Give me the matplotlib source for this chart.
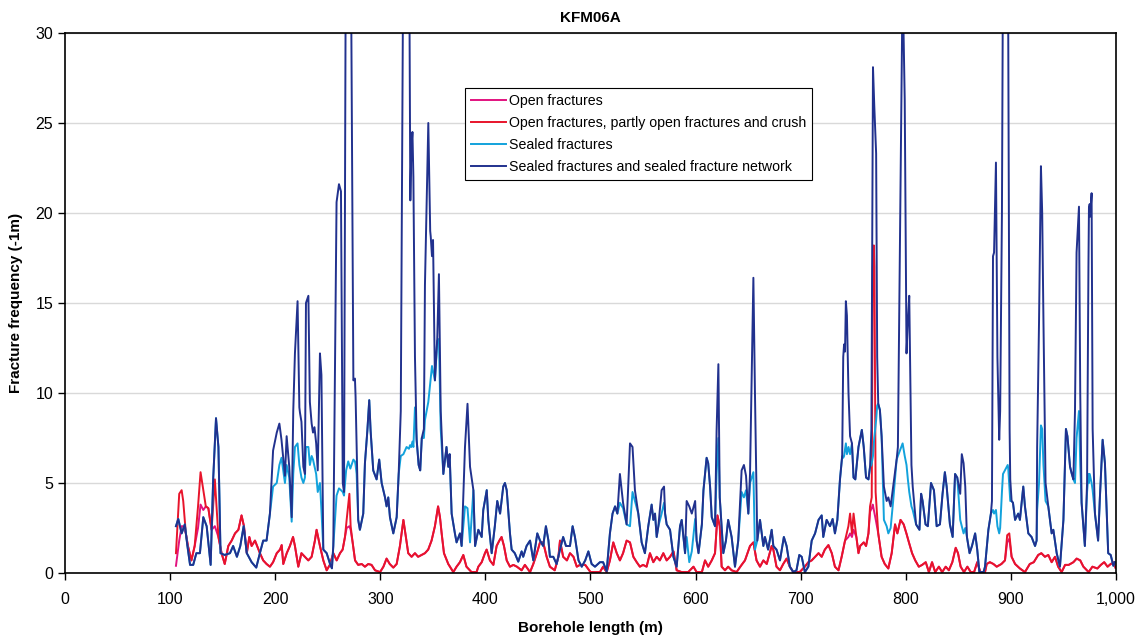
import matplotlib
matplotlib.use('Agg')
import matplotlib.pyplot as plt

plt.rcParams['font.family'] = ['Liberation Sans', 'DejaVu Sans']

title = 'KFM06A'
x_label = 'Borehole length (m)'
y_label = 'Fracture frequency (-1m)'
x_ticks = [0, 100, 200, 300, 400, 500, 600, 700, 800, 900, 1000]
x_tick_labels = ['0', '100', '200', '300', '400', '500', '600', '700', '800', '900', '1,000']
y_ticks = [0, 5, 10, 15, 20, 25, 30]

names = ['Open fractures',
         'Open fractures, partly open fractures and crush',
         'Sealed fractures',
         'Sealed fractures and sealed fracture network']

# (borehole length, frequency)
network_pts = [
    (105.6, 2.6), (107.8, 3.0), (111, 2.2), (114, 2.7), (116.5, 1.5), (119, 0.45), (122, 0.45),
    (125, 1.1), (128.4, 1.1), (131.6, 3.1), (134.8, 2.6), (138.6, 0.45), (141, 5.2), (143.7, 8.6),
    (146, 7.0), (148, 1.1), (152, 1.0), (157, 1.1), (160, 1.5), (163.6, 0.9), (166.8, 1.5),
    (170, 2.6), (173, 1.1), (177.6, 0.6), (182, 0.3), (185, 1.0), (188.6, 1.8), (191.8, 1.8),
    (195, 3.3), (198, 6.8), (201.5, 7.8), (204, 8.3), (206, 7.4), (209.3, 5.4), (210.9, 7.6),
    (213.4, 5.9), (215.7, 3.1), (217.2, 9.0), (218.8, 12.2), (221.3, 15.1), (223, 9.2),
    (223.6, 8.9), (225, 8.4), (226.8, 5.9), (228.3, 5.5), (229.3, 15.0), (230.5, 15.2),
    (231.6, 15.4), (233, 9.5), (234.7, 8.3), (236, 7.8), (237.4, 8.1), (239, 7.2), (240.5, 5.7),
    (242.6, 12.2), (244, 11.0), (245.8, 1.3), (249, 1.1), (252.5, 0.45), (254, 0.26),
    (255.3, 1.5), (258.4, 20.6), (260.7, 21.6), (262.6, 21.2), (264.3, 5.0), (265.5, 4.5),
    (267.5, 40), (271.5, 40), (274.4, 10.7), (275.9, 10.8), (276.5, 9.8), (277.5, 7.0),
    (279, 2.95), (280.6, 2.4), (283.8, 3.3), (285.4, 6.1), (287.7, 7.9), (289.5, 9.6),
    (290.8, 7.9), (293.3, 5.7), (296.5, 5.2), (299, 6.3), (301.3, 5.0), (304.5, 4.2), (306, 3.7),
    (307.6, 4.2), (309.2, 3.1), (312.4, 2.2), (315.6, 3.1), (317.5, 5.5), (319.5, 9.0),
    (322, 36), (325, 40), (327.3, 36), (327.8, 31), (328.3, 23.7), (328.6, 20.7), (329.5, 23.5),
    (330.6, 24.5), (331.5, 22), (333, 12), (334.6, 7.4), (336.5, 6.0), (338, 5.7), (339.5, 7.5),
    (341.5, 8.0), (342.5, 16.0), (345.7, 25.0), (347.5, 19), (348, 18.7), (349.2, 17.6),
    (350.2, 18.5), (352, 10.7), (354.2, 13.0), (355.8, 16.6), (357.5, 9.0), (360, 5.5),
    (363, 7.0), (364.7, 5.9), (366, 6.6), (367.9, 3.3), (371, 2.2), (372.6, 1.7), (375.8, 2.2),
    (377.4, 1.5), (380.6, 7.0), (383, 9.4), (385.4, 5.9), (388.6, 4.6), (390.2, 1.5),
    (393.3, 2.4), (396.5, 2.0), (398, 3.5), (401.3, 4.6), (402.8, 2.95), (406, 1.1), (409, 2.6),
    (411.3, 4.0), (414, 3.3), (417, 4.8), (418.6, 5.0), (420.3, 4.6), (423.4, 2.2), (425, 1.3),
    (428, 1.1), (431.3, 0.63), (434.5, 1.2), (436, 0.9), (439.2, 1.5), (442.5, 1.8),
    (445.6, 0.7), (449.4, 2.2), (452, 1.8), (455, 1.5), (457.6, 2.6), (460, 1.8), (461.4, 0.9),
    (464.6, 0.9), (467.8, 0.5), (471, 1.3), (474, 2.0), (476.7, 1.5), (480.5, 1.5), (483, 2.6),
    (485.2, 2.0), (488.6, 0.7), (491.7, 0.35), (495, 0.7), (498, 1.2), (501.1, 0.5),
    (504.3, 0.35), (509, 0.6), (512, 0.6), (515.4, 0.1), (518.5, 2.2), (521, 3.3), (523.4, 3.7),
    (525.6, 3.3), (528, 5.5), (531, 3.9), (534.4, 2.7), (537.6, 7.2), (540, 7.0), (542.3, 4.6),
    (545.5, 3.3), (548.7, 1.7), (551.8, 1.1), (555, 2.6), (558.2, 3.8), (559.8, 2.95),
    (561.4, 3.3), (563, 2.0), (564.6, 2.6), (567.7, 4.6), (570, 4.8), (571, 3.3), (572.5, 2.7),
    (575.7, 2.4), (578.9, 0.9), (582, 0.35), (585.2, 2.6), (586.8, 2.95), (590, 1.1),
    (591.5, 4.0), (594, 3.7), (596.4, 3.3), (599.6, 4.0), (601, 1.8), (602.8, 1.1), (606, 2.7),
    (607.5, 4.6), (610.5, 6.4), (612, 6.1), (613.8, 4.8), (615.4, 3.1), (618.5, 2.6), (620, 7.9),
    (621.7, 11.6), (623, 4.2), (626.4, 1.1), (628.9, 1.8), (631, 2.95), (634.3, 2.0),
    (637.5, 0.35), (640.6, 1.8), (643.8, 5.7), (646, 6.0), (648, 5.4), (650.2, 3.3),
    (651.8, 5.5), (655, 16.4), (656.5, 10.0), (658.7, 1.8), (661.3, 2.95), (664.5, 1.5),
    (666, 2.0), (669, 1.3), (672.4, 2.4), (674, 1.5), (677, 1.3), (680.3, 0.7), (684, 2.0),
    (686.6, 1.5), (689.7, 0.35), (693, 0.05), (696, 0.15), (698.7, 1.0), (701, 0.9),
    (704, 0.05), (707.3, 0.35), (710.5, 1.8), (713.7, 2.2), (717, 2.95), (720, 3.2),
    (721.5, 2.0), (724.7, 2.95), (727.9, 2.6), (730.4, 3.0), (732.6, 2.2), (734.9, 2.95),
    (737.4, 5.2), (739.5, 6.5), (740.5, 12.0), (741.3, 12.7), (742.2, 12.3), (743, 15.1),
    (744, 14.3), (745.5, 10.0), (747, 7.6), (748.8, 7.2), (750.3, 5.3), (752, 5.2), (755, 7.0),
    (758.2, 7.95), (760, 7.0), (762.2, 5.3), (764.5, 5.2), (766, 5.9), (767.3, 8.0),
    (768.8, 28.1), (770, 26.0), (771.8, 23.3), (772.8, 12.0), (773.8, 9.4), (775.4, 9.05),
    (777, 7.6), (779.2, 4.8), (781.8, 4.0), (783.4, 4.2), (785.6, 3.7), (788, 4.8), (791.3, 6.3),
    (792.5, 7.0), (797, 33), (799, 26.3), (800.7, 12.2), (802, 14.0), (803.3, 15.4),
    (805.4, 6.0), (806.6, 4.8), (809.8, 2.7), (813, 2.4), (814.6, 4.4), (816, 4.0), (818.8, 2.7),
    (821, 2.6), (824, 5.0), (826.8, 4.6), (829.4, 2.6), (832.5, 2.7), (835, 4.4), (837.2, 5.6),
    (838.9, 4.8), (842, 2.7), (844.6, 2.0), (846.9, 5.5), (849, 5.3), (851.8, 4.4), (853.3, 6.6),
    (855, 6.1), (856.6, 4.8), (858.2, 2.0), (860.7, 1.1), (863, 1.5), (866, 2.2), (868, 1.3),
    (870, 0.05), (874, 0.05), (875.4, 0.35), (878.6, 2.4), (881, 3.3), (882, 4.0), (883, 17.6),
    (884, 17.8), (885.8, 22.8), (887.2, 12.0), (888.9, 7.4), (889.8, 9.0), (891.5, 20.0),
    (892.5, 34), (897, 34), (897.5, 30), (898.8, 8.0), (899.4, 5.2), (900.7, 4.0), (902, 3.9),
    (904, 2.95), (907, 3.3), (908.6, 2.95), (911.8, 4.8), (913.4, 3.7), (916.6, 2.2),
    (919.7, 2.0), (923, 1.5), (924.5, 1.8), (925, 7.0), (926.8, 14.0), (928.6, 22.6),
    (929.8, 20.0), (931, 14.0), (933, 5.0), (935.6, 3.7), (938.8, 2.2), (940.4, 2.4),
    (943.6, 1.1), (946.7, 0.35), (950, 2.95), (952.4, 8.0), (953.8, 7.6), (956.3, 5.9),
    (958, 5.5), (959.5, 5.2), (961, 9.0), (962.5, 17.8), (964.8, 20.35), (966, 10.0),
    (967.3, 3.9), (970.4, 1.5), (972.5, 5.0), (973.8, 17.0), (974.3, 20.3), (975, 20.5),
    (975.6, 19.8), (976.8, 21.1), (977.8, 8.0), (980, 3.3), (983, 1.8), (984.7, 4.2),
    (987.3, 7.4), (989.5, 6.1), (992.6, 1.1), (995, 1.0), (997.5, 0.4), (999, 0.6),
]

# stretches where "Sealed fractures" lies below the network curve
sealed_patches = [
    [(195, 3.3), (198, 4.8), (201.5, 5.0), (204, 6.0), (206, 6.4), (209.3, 5.0), (210.9, 6.0),
     (213.4, 5.3), (215.7, 2.85), (217.2, 5.5), (218.8, 7.0), (221.3, 7.2), (223, 6.0),
     (225, 5.3), (226.8, 5.0), (228.3, 5.3), (229.3, 7.0), (231.6, 7.0), (233, 6.0),
     (234.7, 6.5), (236, 6.3), (239, 5.5), (240.5, 4.5), (242.6, 5.0), (244, 3.5), (245.8, 1.3)],
    [(258.4, 4.3), (260.7, 4.7), (262.6, 4.6), (264.3, 4.5), (265.5, 4.3), (267.5, 5.7),
     (269.5, 6.2), (271.5, 5.8), (274.4, 6.3), (275.9, 6.2), (276.5, 6.0), (277.5, 5.5)],
    [(317.5, 5.5), (319.5, 6.5), (322, 6.6), (325, 7.0), (327.3, 6.9), (328.3, 7.1),
     (329.5, 7.0), (330.6, 7.3), (331.5, 7.0), (333, 9.2), (334.6, 7.4)],
    [(341.5, 7.5), (342.5, 8.5), (345.7, 9.5), (347.5, 10.5), (349.2, 11.5), (352, 10.7),
     (354.2, 12.9), (355.8, 13.0), (357.5, 8.0), (360, 5.5)],
    [(380.6, 3.7), (383, 3.6), (385.4, 1.7)],
    [(528, 3.9), (531, 3.6), (534.4, 2.7), (537.6, 2.6), (540, 4.5), (542.3, 4.0)],
    [(567.7, 3.3), (570, 3.9)],
    [(591.5, 2.0), (594, 0.6), (596.4, 1.2), (599.6, 3.0)],
    [(620, 5.5), (621.7, 7.5), (623, 4.2)],
    [(643.8, 4.5), (646, 4.2), (648, 4.6), (650.2, 3.3), (651.8, 5.0), (655, 5.6),
     (656.5, 1.3), (658.7, 1.8)],
    [(739.5, 6.5), (740.5, 6.4), (741.3, 6.5), (743, 7.2), (744, 6.6), (745.5, 7.0),
     (747, 6.6), (748.8, 7.2)],
    [(767.3, 6.0), (768.8, 6.5), (770, 7.5), (771.8, 8.5), (772.8, 9.3), (773.8, 9.4)],
    [(779.2, 2.95), (781.8, 2.6), (783.4, 2.2), (785.6, 2.5), (788, 4.0)],
    [(792.5, 6.5), (797, 7.2), (799, 6.5), (800.7, 6.0), (802, 5.2), (803.3, 4.5),
     (805.4, 3.7), (806.6, 3.5)],
    [(851.8, 2.95), (853.3, 2.6), (855, 2.2), (856.6, 2.5)],
    [(881, 3.3), (882, 3.4), (883, 3.5), (884, 3.3), (885.8, 3.5), (887.2, 2.6), (888.9, 2.2),
     (889.8, 2.5), (891.5, 4.5), (892.5, 5.5), (897, 6.0), (897.5, 5.8), (898.8, 4.5),
     (899.4, 4.0)],
    [(925, 3.5), (926.8, 5.0), (928.6, 8.2), (929.8, 8.0), (931, 6.0), (933, 4.0)],
    [(961, 5.0), (962.5, 7.5), (964.8, 9.0), (966, 6.0), (967.3, 3.9)],
    [(972.5, 4.5), (973.8, 5.5), (974.3, 5.0), (975, 5.5), (976.8, 5.0), (977.8, 4.6)],
]

crush_pts = [
    (105.6, 1.1), (108.7, 4.4), (111, 4.6), (112.5, 4.0), (115, 2.2), (117, 1.5), (120.3, 0.7),
    (123.4, 1.5), (126.6, 3.7), (129, 5.6), (131.6, 4.6), (134, 3.7), (136.4, 3.6), (139.5, 2.4),
    (142.6, 5.2), (146, 2.0), (149, 1.1), (152, 0.5), (155.4, 1.5), (158.6, 1.8), (161.8, 2.2),
    (165, 2.4), (168, 3.2), (170.3, 2.6), (173, 1.1), (175.4, 2.0), (177.6, 1.5), (180.8, 1.8),
    (185.5, 1.1), (188.6, 0.7), (191.8, 0.5), (195, 0.35), (198, 0.6), (201.5, 1.1),
    (204.6, 1.3), (206.2, 1.55), (207.7, 0.5), (211, 1.1), (214, 1.5), (217, 2.0), (218.8, 1.5),
    (222, 0.35), (225, 1.1), (228.3, 0.9), (231.5, 0.7), (234.7, 0.9), (237.8, 1.8),
    (239.4, 2.4), (242.6, 1.5), (245.8, 0.7), (249, 0.15), (252, 0.45), (255.3, 1.1),
    (258.5, 0.7), (261.7, 1.1), (264.2, 1.3), (266.4, 2.0), (268, 2.95), (270.6, 4.4),
    (271.8, 2.6), (273.7, 1.7), (276, 0.7), (279, 0.45), (282.3, 0.5), (285.4, 0.35),
    (288.6, 0.5), (291.7, 0.45), (295, 0.15), (299.8, 0.05), (303, 0.35), (306, 0.8), (309, 0.5),
    (312.4, 0.3), (315.6, 0.5), (318.7, 1.5), (322, 2.95), (324.4, 2.0), (326.6, 1.1),
    (329.8, 0.9), (333, 1.1), (336, 0.9), (339.3, 1.0), (342.5, 1.1), (345.6, 1.3), (348.8, 1.8),
    (352, 2.6), (355, 3.7), (356.8, 3.1), (358.4, 2.2), (360.6, 1.1), (364.7, 0.5),
    (369.5, 0.05), (372.6, 0.35), (375.8, 0.6), (379, 1.0), (382, 0.35), (386.8, 0.05),
    (391.6, 0.05), (393.3, 0.35), (396.5, 0.6), (399.6, 1.1), (401.2, 1.3), (404.3, 0.7),
    (407.6, 0.45), (410.7, 1.5), (413.3, 1.8), (415.4, 2.0), (417.7, 1.5), (420.3, 0.7),
    (423.4, 0.35), (426.6, 0.45), (430, 0.35), (434.5, 0.15), (437.6, 0.45), (442.5, 0.05),
    (445.6, 0.5), (449, 1.1), (452, 1.7), (455, 1.7), (458.3, 0.9), (461.4, 0.35), (466, 0.15),
    (469.5, 0.9), (471, 1.8), (474, 0.9), (477.6, 0.7), (480.5, 1.1), (483.8, 0.9), (487, 0.35),
    (490, 0.45), (495, 0.45), (500, 0.05), (509, 0.05), (512, 0.35), (515.4, 0.05),
    (518.5, 0.7), (521.7, 1.7), (525, 1.1), (528, 0.7), (531, 1.1), (534.4, 1.8), (537.6, 1.7),
    (540.8, 0.9), (544, 0.6), (547, 0.35), (550, 0.45), (553.4, 0.35), (556.6, 1.1),
    (559.8, 0.6), (563, 0.9), (566, 0.7), (569.3, 1.1), (572.5, 0.7), (575.7, 0.9), (579, 1.2),
    (582, 0.15), (586.8, 0.05), (593, 0.05), (598, 0.35), (601, 0.05), (606, 0.05), (609, 0.7),
    (612, 0.35), (615.4, 0.7), (618.5, 1.1), (620.8, 3.2), (623, 2.6), (624.8, 0.35),
    (628, 0.15), (631, 0.35), (634.3, 0.15), (639, 0.05), (643.8, 0.45), (647, 0.7),
    (651.8, 1.5), (655, 1.7), (658, 0.7), (661.3, 0.35), (664.5, 0.7), (667.7, 0.5),
    (672.4, 1.5), (674, 1.3), (677, 0.35), (680.3, 0.15), (683.4, 0.5), (686.6, 0.8),
    (689.7, 0.35), (693, 0.05), (699, 0.05), (704, 0.35), (707.3, 0.6), (710.5, 0.7),
    (713.7, 0.9), (717, 1.1), (720, 0.9), (723, 1.3), (726.4, 1.55), (729.6, 1.1), (732.6, 0.35),
    (736, 0.15), (739, 0.9), (742.2, 1.8), (745.4, 2.6), (747, 3.3), (748.8, 2.2), (750.3, 3.3),
    (753, 2.0), (755, 1.1), (756.6, 1.5), (760, 1.7), (762.2, 1.5), (764.5, 2.2), (766, 3.7),
    (767.6, 4.2), (768.6, 17.0), (769.6, 18.2), (770.2, 17.0), (771.3, 4.5), (773.8, 2.2),
    (777, 0.9), (780, 0.5), (783.4, 0.25), (786.6, 1.1), (789.8, 2.7), (792, 2.2), (795, 2.95),
    (798, 2.7), (800.6, 2.2), (803, 1.7), (806, 1.1), (809, 0.7), (812.4, 0.35), (815.6, 0.45),
    (819, 0.6), (822, 0.05), (825, 0.6), (828, 0.05), (831.5, 0.35), (834.6, 0.05), (838, 0.35),
    (841, 0.15), (844.3, 0.6), (847.5, 1.4), (849.7, 1.1), (852.2, 0.35), (855.4, 0.05),
    (858.6, 0.35), (861.8, 0.05), (865, 0.05), (868, 0.6), (871, 0.05), (875.4, 0.05),
    (877, 0.5), (880, 0.6), (883.4, 0.5), (886.5, 0.35), (891, 0.5), (894.4, 0.7), (896.5, 2.1),
    (898.5, 2.2), (900.7, 0.9), (904, 0.5), (908.6, 0.25), (913.4, 0.05), (918, 0.5),
    (921.8, 0.6), (926, 1.0), (929, 1.1), (932.4, 0.9), (935.6, 1.0), (938.8, 0.6), (942, 0.9),
    (945, 0.35), (948.3, 0.05), (951.6, 0.45), (955, 0.45), (959.5, 0.6), (962.6, 0.8),
    (966, 0.7), (969, 0.35), (974, 0.05), (977.6, 0.35), (982.3, 0.25), (985.6, 0.45),
    (988.8, 0.6), (992, 0.35), (995, 0.5), (998, 0.6), (999.5, 0.3),
]

# stretches where "Open fractures" lies below the crush curve
open_patches = [
    [(105.6, 0.4), (108.7, 1.8), (111, 2.6), (112.5, 2.6), (115, 2.2)],
    [(126.6, 2.5), (129, 3.8), (131.6, 3.5), (134, 3.7)],
    [(139.5, 2.4), (142.6, 2.6), (146, 2.0)],
    [(268, 2.5), (270.6, 2.6), (271.8, 2.4)],
    [(745.4, 2.0), (747, 2.2), (748.8, 2.0), (750.3, 2.4)],
    [(766, 3.4), (767.6, 3.6), (768.6, 3.8), (769.6, 3.5), (770.2, 3.3), (771.3, 3.0),
     (773.8, 2.2)],
    [(896.5, 1.7), (898.5, 1.9)],
]


def splice(base, patches):
    pts = list(base)
    for patch in patches:
        lo, hi = patch[0][0], patch[-1][0]
        pts = [p for p in pts if p[0] < lo or p[0] > hi] + patch
    pts.sort()
    return [p[0] for p in pts], [p[1] for p in pts]


net_x, net_y = splice(network_pts, [])
sealed_x, sealed_y = splice(network_pts, sealed_patches)
crush_x, crush_y = splice(crush_pts, [])
open_x, open_y = splice(crush_pts, open_patches)

fig = plt.figure(figsize=(11.44, 6.39), dpi=100)
ax = fig.add_axes([0.0568, 0.1033, 0.9187, 0.8451])

ax.plot(open_x, open_y, color='#E2127F', lw=1.4, label=names[0])
ax.plot(crush_x, crush_y, color='#E8142B', lw=1.4, label=names[1])
ax.plot(sealed_x, sealed_y, color='#12A2DC', lw=1.4, label=names[2])
ax.plot(net_x, net_y, color='#21318E', lw=1.4, label=names[3])

ax.set_xlim(0, 1000)
ax.set_ylim(0, 30)
ax.set_xticks(x_ticks)
ax.set_xticklabels(x_tick_labels)
ax.set_yticks(y_ticks)
ax.grid(axis='y', color='#D9D9D9', lw=1)
ax.set_axisbelow(True)
ax.tick_params(direction='out', length=5, width=1, labelsize=11.5, colors='black')
ax.tick_params(axis='x', pad=9)
for s in ax.spines.values():
    s.set_color('black')
    s.set_linewidth(1.2)

ax.set_title(title, fontsize=11, fontweight='bold', pad=8)
ax.set_xlabel(x_label, fontsize=11, fontweight='bold', labelpad=10)
ax.set_ylabel(y_label, fontsize=11, fontweight='bold', labelpad=9)

leg = ax.legend(loc='upper left', bbox_to_anchor=(0.381, 0.898), fontsize=10.2,
                frameon=True, fancybox=False, edgecolor='black', framealpha=1,
                borderaxespad=0, handlelength=2.5, handletextpad=0.2,
                labelspacing=0.58, borderpad=0.4)
leg.get_frame().set_linewidth(0.8)

fig.savefig('out.png', dpi=100)
